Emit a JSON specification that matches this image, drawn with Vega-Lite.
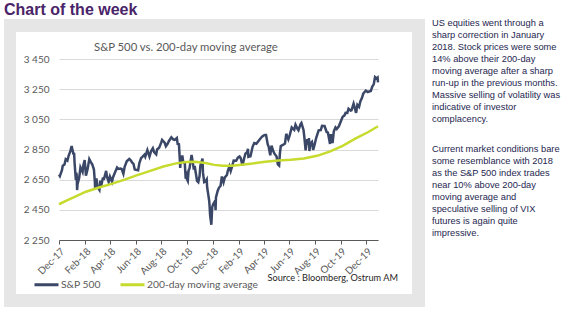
{
  "$schema": "https://vega.github.io/schema/vega-lite/v6.json",
  "background": "white",
  "padding": {"left": 4, "top": 2, "right": 0, "bottom": 0},
  "title": {"text": "Chart of the week", "anchor": "start", "frame": "group", "font": "Liberation Sans", "fontSize": 16, "fontWeight": "bold", "color": "#4A2468", "offset": 1},
  "config": {"view": {"stroke": null}},
  "datasets": {
    "none": [],
    "sp": [
      {"date": "2017-12-27", "value": 2683}, {"date": "2017-12-29", "value": 2674}, {"date": "2018-01-03", "value": 2713},
      {"date": "2018-01-05", "value": 2743}, {"date": "2018-01-09", "value": 2751}, {"date": "2018-01-12", "value": 2786},
      {"date": "2018-01-16", "value": 2777}, {"date": "2018-01-19", "value": 2810}, {"date": "2018-01-23", "value": 2839},
      {"date": "2018-01-26", "value": 2873}, {"date": "2018-01-30", "value": 2823}, {"date": "2018-02-01", "value": 2822},
      {"date": "2018-02-02", "value": 2762}, {"date": "2018-02-05", "value": 2649}, {"date": "2018-02-06", "value": 2695},
      {"date": "2018-02-07", "value": 2682}, {"date": "2018-02-08", "value": 2581}, {"date": "2018-02-09", "value": 2620},
      {"date": "2018-02-13", "value": 2663}, {"date": "2018-02-16", "value": 2732}, {"date": "2018-02-21", "value": 2701},
      {"date": "2018-02-23", "value": 2747}, {"date": "2018-02-26", "value": 2780}, {"date": "2018-02-28", "value": 2714},
      {"date": "2018-03-01", "value": 2677}, {"date": "2018-03-05", "value": 2720}, {"date": "2018-03-09", "value": 2786},
      {"date": "2018-03-13", "value": 2765}, {"date": "2018-03-16", "value": 2752}, {"date": "2018-03-20", "value": 2717},
      {"date": "2018-03-22", "value": 2643}, {"date": "2018-03-23", "value": 2588}, {"date": "2018-03-26", "value": 2658},
      {"date": "2018-03-28", "value": 2605}, {"date": "2018-04-02", "value": 2582}, {"date": "2018-04-04", "value": 2644},
      {"date": "2018-04-06", "value": 2604}, {"date": "2018-04-10", "value": 2657}, {"date": "2018-04-13", "value": 2656},
      {"date": "2018-04-18", "value": 2708}, {"date": "2018-04-20", "value": 2670}, {"date": "2018-04-24", "value": 2635},
      {"date": "2018-04-27", "value": 2670}, {"date": "2018-05-02", "value": 2636}, {"date": "2018-05-04", "value": 2663},
      {"date": "2018-05-09", "value": 2697}, {"date": "2018-05-14", "value": 2730}, {"date": "2018-05-17", "value": 2721},
      {"date": "2018-05-22", "value": 2724}, {"date": "2018-05-25", "value": 2721}, {"date": "2018-05-29", "value": 2690},
      {"date": "2018-06-01", "value": 2735}, {"date": "2018-06-06", "value": 2772}, {"date": "2018-06-12", "value": 2787},
      {"date": "2018-06-15", "value": 2780}, {"date": "2018-06-19", "value": 2762}, {"date": "2018-06-22", "value": 2755},
      {"date": "2018-06-25", "value": 2718}, {"date": "2018-06-28", "value": 2716}, {"date": "2018-07-03", "value": 2713},
      {"date": "2018-07-06", "value": 2760}, {"date": "2018-07-10", "value": 2793}, {"date": "2018-07-13", "value": 2801},
      {"date": "2018-07-18", "value": 2815}, {"date": "2018-07-20", "value": 2802}, {"date": "2018-07-25", "value": 2846},
      {"date": "2018-07-30", "value": 2803}, {"date": "2018-08-03", "value": 2840}, {"date": "2018-08-07", "value": 2858},
      {"date": "2018-08-10", "value": 2833}, {"date": "2018-08-15", "value": 2818}, {"date": "2018-08-17", "value": 2850},
      {"date": "2018-08-22", "value": 2861}, {"date": "2018-08-27", "value": 2897}, {"date": "2018-08-29", "value": 2914},
      {"date": "2018-09-04", "value": 2896}, {"date": "2018-09-07", "value": 2872}, {"date": "2018-09-11", "value": 2888},
      {"date": "2018-09-14", "value": 2905}, {"date": "2018-09-20", "value": 2931}, {"date": "2018-09-25", "value": 2916},
      {"date": "2018-09-28", "value": 2914}, {"date": "2018-10-03", "value": 2926}, {"date": "2018-10-05", "value": 2886},
      {"date": "2018-10-08", "value": 2884}, {"date": "2018-10-10", "value": 2786}, {"date": "2018-10-11", "value": 2728},
      {"date": "2018-10-12", "value": 2767}, {"date": "2018-10-16", "value": 2810}, {"date": "2018-10-18", "value": 2769},
      {"date": "2018-10-22", "value": 2756}, {"date": "2018-10-24", "value": 2657}, {"date": "2018-10-25", "value": 2706},
      {"date": "2018-10-26", "value": 2659}, {"date": "2018-10-29", "value": 2641}, {"date": "2018-10-31", "value": 2712},
      {"date": "2018-11-02", "value": 2723}, {"date": "2018-11-07", "value": 2814}, {"date": "2018-11-09", "value": 2781},
      {"date": "2018-11-12", "value": 2726}, {"date": "2018-11-15", "value": 2731}, {"date": "2018-11-20", "value": 2642},
      {"date": "2018-11-23", "value": 2633}, {"date": "2018-11-26", "value": 2674}, {"date": "2018-11-28", "value": 2744},
      {"date": "2018-12-03", "value": 2790}, {"date": "2018-12-04", "value": 2700}, {"date": "2018-12-07", "value": 2633},
      {"date": "2018-12-10", "value": 2637}, {"date": "2018-12-13", "value": 2651}, {"date": "2018-12-14", "value": 2600},
      {"date": "2018-12-17", "value": 2546}, {"date": "2018-12-19", "value": 2507}, {"date": "2018-12-20", "value": 2467},
      {"date": "2018-12-21", "value": 2417}, {"date": "2018-12-24", "value": 2351}, {"date": "2018-12-26", "value": 2468},
      {"date": "2018-12-28", "value": 2486}, {"date": "2019-01-02", "value": 2510}, {"date": "2019-01-03", "value": 2448},
      {"date": "2019-01-04", "value": 2532}, {"date": "2019-01-08", "value": 2575}, {"date": "2019-01-11", "value": 2596},
      {"date": "2019-01-15", "value": 2610}, {"date": "2019-01-18", "value": 2671}, {"date": "2019-01-22", "value": 2633},
      {"date": "2019-01-25", "value": 2665}, {"date": "2019-01-30", "value": 2681}, {"date": "2019-02-01", "value": 2707},
      {"date": "2019-02-05", "value": 2738}, {"date": "2019-02-08", "value": 2708}, {"date": "2019-02-12", "value": 2745},
      {"date": "2019-02-15", "value": 2776}, {"date": "2019-02-21", "value": 2775}, {"date": "2019-02-25", "value": 2796},
      {"date": "2019-03-01", "value": 2804}, {"date": "2019-03-04", "value": 2792}, {"date": "2019-03-08", "value": 2743},
      {"date": "2019-03-12", "value": 2792}, {"date": "2019-03-15", "value": 2822}, {"date": "2019-03-19", "value": 2832},
      {"date": "2019-03-21", "value": 2855}, {"date": "2019-03-22", "value": 2801}, {"date": "2019-03-27", "value": 2805},
      {"date": "2019-04-01", "value": 2868}, {"date": "2019-04-05", "value": 2893}, {"date": "2019-04-10", "value": 2888},
      {"date": "2019-04-15", "value": 2906}, {"date": "2019-04-23", "value": 2934}, {"date": "2019-04-26", "value": 2940},
      {"date": "2019-04-30", "value": 2946}, {"date": "2019-05-03", "value": 2946}, {"date": "2019-05-07", "value": 2884},
      {"date": "2019-05-09", "value": 2871}, {"date": "2019-05-13", "value": 2812}, {"date": "2019-05-16", "value": 2876},
      {"date": "2019-05-20", "value": 2840}, {"date": "2019-05-23", "value": 2822}, {"date": "2019-05-28", "value": 2803},
      {"date": "2019-05-31", "value": 2752}, {"date": "2019-06-03", "value": 2744}, {"date": "2019-06-05", "value": 2826},
      {"date": "2019-06-07", "value": 2873}, {"date": "2019-06-12", "value": 2880}, {"date": "2019-06-17", "value": 2889},
      {"date": "2019-06-20", "value": 2954}, {"date": "2019-06-25", "value": 2917}, {"date": "2019-06-28", "value": 2942},
      {"date": "2019-07-03", "value": 2996}, {"date": "2019-07-09", "value": 2980}, {"date": "2019-07-12", "value": 3014},
      {"date": "2019-07-17", "value": 2985}, {"date": "2019-07-19", "value": 2977}, {"date": "2019-07-24", "value": 3019},
      {"date": "2019-07-26", "value": 3026}, {"date": "2019-07-31", "value": 2980}, {"date": "2019-08-02", "value": 2932},
      {"date": "2019-08-05", "value": 2844}, {"date": "2019-08-07", "value": 2884}, {"date": "2019-08-09", "value": 2919},
      {"date": "2019-08-12", "value": 2883}, {"date": "2019-08-13", "value": 2926}, {"date": "2019-08-14", "value": 2840},
      {"date": "2019-08-16", "value": 2889}, {"date": "2019-08-20", "value": 2900}, {"date": "2019-08-23", "value": 2847},
      {"date": "2019-08-26", "value": 2878}, {"date": "2019-08-30", "value": 2926}, {"date": "2019-09-05", "value": 2977},
      {"date": "2019-09-10", "value": 2979}, {"date": "2019-09-13", "value": 3007}, {"date": "2019-09-17", "value": 3006},
      {"date": "2019-09-19", "value": 3006}, {"date": "2019-09-24", "value": 2966}, {"date": "2019-09-27", "value": 2962},
      {"date": "2019-10-02", "value": 2887}, {"date": "2019-10-04", "value": 2952}, {"date": "2019-10-08", "value": 2893},
      {"date": "2019-10-11", "value": 2970}, {"date": "2019-10-15", "value": 2996}, {"date": "2019-10-18", "value": 2986},
      {"date": "2019-10-23", "value": 3004}, {"date": "2019-10-28", "value": 3039}, {"date": "2019-11-01", "value": 3067},
      {"date": "2019-11-05", "value": 3075}, {"date": "2019-11-08", "value": 3093}, {"date": "2019-11-12", "value": 3092},
      {"date": "2019-11-15", "value": 3120}, {"date": "2019-11-20", "value": 3108}, {"date": "2019-11-22", "value": 3110},
      {"date": "2019-11-27", "value": 3154}, {"date": "2019-12-03", "value": 3093}, {"date": "2019-12-06", "value": 3146},
      {"date": "2019-12-10", "value": 3133}, {"date": "2019-12-13", "value": 3169}, {"date": "2019-12-17", "value": 3193},
      {"date": "2019-12-20", "value": 3221}, {"date": "2019-12-26", "value": 3240}, {"date": "2019-12-31", "value": 3231},
      {"date": "2020-01-03", "value": 3235}, {"date": "2020-01-07", "value": 3238}, {"date": "2020-01-10", "value": 3265},
      {"date": "2020-01-14", "value": 3284}, {"date": "2020-01-17", "value": 3330}, {"date": "2020-01-21", "value": 3321},
      {"date": "2020-01-23", "value": 3326}, {"date": "2020-01-24", "value": 3295}
    ],
    "ma": [
      {"date": "2017-12-27", "value": 2487}, {"date": "2018-01-15", "value": 2512}, {"date": "2018-02-01", "value": 2535},
      {"date": "2018-03-01", "value": 2570}, {"date": "2018-04-01", "value": 2598}, {"date": "2018-05-01", "value": 2622},
      {"date": "2018-06-01", "value": 2650}, {"date": "2018-07-01", "value": 2680}, {"date": "2018-08-01", "value": 2708},
      {"date": "2018-09-01", "value": 2737}, {"date": "2018-10-01", "value": 2758}, {"date": "2018-10-25", "value": 2767},
      {"date": "2018-11-15", "value": 2768}, {"date": "2018-12-10", "value": 2760}, {"date": "2018-12-31", "value": 2748},
      {"date": "2019-01-20", "value": 2742}, {"date": "2019-02-10", "value": 2742}, {"date": "2019-03-01", "value": 2747},
      {"date": "2019-04-01", "value": 2757}, {"date": "2019-05-01", "value": 2769}, {"date": "2019-06-01", "value": 2777},
      {"date": "2019-07-01", "value": 2782}, {"date": "2019-08-01", "value": 2791}, {"date": "2019-09-01", "value": 2808},
      {"date": "2019-10-01", "value": 2836}, {"date": "2019-11-01", "value": 2874}, {"date": "2019-12-01", "value": 2922},
      {"date": "2020-01-01", "value": 2966}, {"date": "2020-01-24", "value": 3004}
    ]
  },
  "columns": 6,
  "align": "each",
  "bounds": "flush",
  "spacing": 0,
  "concat": [
    {"width": 12, "height": 13, "data": {"name": "none"}, "mark": "point", "view": {"fill": "#E6E6E6"}},
    {"width": 43, "height": 13, "data": {"name": "none"}, "mark": "point", "view": {"fill": "#E6E6E6"}},
    {"width": 319, "height": 13, "data": {"name": "none"}, "mark": "point", "view": {"fill": "#E6E6E6"}},
    {"width": 34, "height": 13, "data": {"name": "none"}, "mark": "point", "view": {"fill": "#E6E6E6"}},
    {"width": 13, "height": 13, "data": {"name": "none"}, "mark": "point", "view": {"fill": "#E6E6E6"}},
    {
      "width": 157, "height": 13, "data": {"name": "none"}, "mark": "point",
      "title": {
        "text": ["US equities went through a", "sharp correction in January", "2018. Stock prices were some", "14% above their 200-day", "moving average after a sharp", "run-up in the previous months.", "Massive selling of volatility was", "indicative of investor", "complacency."],
        "subtitle": ["Current market conditions bare", "some resemblance with 2018", "as the S&P 500 index trades", "near 10% above 200-day", "moving average and", "speculative selling of VIX", "futures is again quite", "impressive."],
        "orient": "bottom", "anchor": "start", "frame": "group", "dx": 7, "offset": -13, "baseline": "top",
        "font": "Liberation Sans", "fontSize": 9.3, "fontWeight": "normal", "color": "#25264F", "lineHeight": 12,
        "subtitleFont": "Liberation Sans", "subtitleFontSize": 9.3, "subtitleColor": "#25264F", "subtitleLineHeight": 12, "subtitlePadding": 21
      }
    },

    {"width": 12, "height": 27, "data": {"name": "none"}, "mark": "point", "view": {"fill": "#E6E6E6"}},
    {"width": 1, "height": 1, "data": {"name": "none"}, "mark": "point"},
    {"width": 1, "height": 1, "data": {"name": "none"}, "mark": "point"},
    {"width": 1, "height": 1, "data": {"name": "none"}, "mark": "point"},
    {"width": 13, "height": 27, "data": {"name": "none"}, "mark": "point", "view": {"fill": "#E6E6E6"}},
    {"width": 1, "height": 1, "data": {"name": "none"}, "mark": "point"},

    {"width": 12, "height": 181, "data": {"name": "none"}, "mark": "point", "view": {"fill": "#E6E6E6"}},
    {"width": 1, "height": 1, "data": {"name": "none"}, "mark": "point"},
    {
      "width": 319,
      "height": 181,
      "title": {"text": "S&P 500 vs. 200-day moving average", "anchor": "start", "frame": "group", "dx": 35, "font": "Lato", "fontSize": 11.3, "fontWeight": "normal", "color": "#595959", "offset": 1},
      "encoding": {
        "x": {
          "field": "date", "type": "temporal",
          "scale": {"domain": [{"year": 2017, "month": 12, "date": 27}, {"year": 2020, "month": 1, "date": 24}], "nice": false},
          "axis": {
            "values": [
              {"year": 2017, "month": 12, "date": 27}, {"year": 2018, "month": 2, "date": 27}, {"year": 2018, "month": 4, "date": 27},
              {"year": 2018, "month": 6, "date": 27}, {"year": 2018, "month": 8, "date": 27}, {"year": 2018, "month": 10, "date": 27},
              {"year": 2018, "month": 12, "date": 27}, {"year": 2019, "month": 2, "date": 27}, {"year": 2019, "month": 4, "date": 27},
              {"year": 2019, "month": 6, "date": 27}, {"year": 2019, "month": 8, "date": 27}, {"year": 2019, "month": 10, "date": 27},
              {"year": 2019, "month": 12, "date": 27}
            ],
            "format": "%b-%y",
            "labelAngle": -45,
            "labelFont": "Lato", "labelFontSize": 10, "labelColor": "#595959",
            "labelOverlap": false, "labelFlush": false, "labelBound": false, "labelPadding": 2,
            "domainColor": "#595959", "tickColor": "#595959", "tickSize": 4, "grid": false,
            "title": "Source : Bloomberg, Ostrum AM",
            "titleX": 208, "titleY": 37, "titleAlign": "left", "titleBaseline": "middle",
            "titleFont": "Lato", "titleFontSize": 9.2, "titleFontWeight": "normal", "titleColor": "#262626"
          }
        },
        "y": {
          "field": "value", "type": "quantitative",
          "scale": {"domain": [2250, 3450], "nice": false, "zero": false},
          "axis": {
            "values": [2250, 2450, 2650, 2850, 3050, 3250, 3450],
            "labelExpr": "replace(format(datum.value, ','), ',', ' ')",
            "domain": false, "ticks": false, "grid": true, "gridColor": "#D9D9D9",
            "labelFont": "Lato", "labelFontSize": 10, "labelColor": "#595959", "labelPadding": 10, "title": null
          }
        },
        "color": {
          "type": "nominal",
          "scale": {"domain": ["S&P 500", "200-day moving average"], "range": ["#3B4767", "#C6DB2E"]},
          "legend": {
            "orient": "none", "legendX": 29, "legendY": 252, "direction": "horizontal", "title": null,
            "symbolType": "stroke", "symbolStrokeWidth": 3, "symbolSize": 576,
            "labelFont": "Lato", "labelFontSize": 10.3, "labelColor": "#595959",
            "columnPadding": 13, "labelOffset": 1, "padding": 0
          }
        }
      },
      "layer": [
        {"data": {"name": "sp"}, "mark": {"type": "line", "strokeWidth": 2.5}, "encoding": {"color": {"datum": "S&P 500", "type": "nominal"}}},
        {"data": {"name": "ma"}, "mark": {"type": "line", "strokeWidth": 2.5}, "encoding": {"color": {"datum": "200-day moving average", "type": "nominal"}}}
      ]
    },
    {"width": 1, "height": 1, "data": {"name": "none"}, "mark": "point"},
    {"width": 13, "height": 181, "data": {"name": "none"}, "mark": "point", "view": {"fill": "#E6E6E6"}},
    {"width": 1, "height": 1, "data": {"name": "none"}, "mark": "point"},

    {"width": 12, "height": 54, "data": {"name": "none"}, "mark": "point", "view": {"fill": "#E6E6E6"}},
    {"width": 1, "height": 1, "data": {"name": "none"}, "mark": "point"},
    {"width": 1, "height": 1, "data": {"name": "none"}, "mark": "point"},
    {"width": 1, "height": 1, "data": {"name": "none"}, "mark": "point"},
    {"width": 13, "height": 54, "data": {"name": "none"}, "mark": "point", "view": {"fill": "#E6E6E6"}},
    {"width": 1, "height": 1, "data": {"name": "none"}, "mark": "point"},

    {"width": 12, "height": 13, "data": {"name": "none"}, "mark": "point", "view": {"fill": "#E6E6E6"}},
    {"width": 43, "height": 13, "data": {"name": "none"}, "mark": "point", "view": {"fill": "#E6E6E6"}},
    {"width": 319, "height": 13, "data": {"name": "none"}, "mark": "point", "view": {"fill": "#E6E6E6"}},
    {"width": 34, "height": 13, "data": {"name": "none"}, "mark": "point", "view": {"fill": "#E6E6E6"}},
    {"width": 13, "height": 13, "data": {"name": "none"}, "mark": "point", "view": {"fill": "#E6E6E6"}},
    {"width": 1, "height": 1, "data": {"name": "none"}, "mark": "point"}
  ]
}
